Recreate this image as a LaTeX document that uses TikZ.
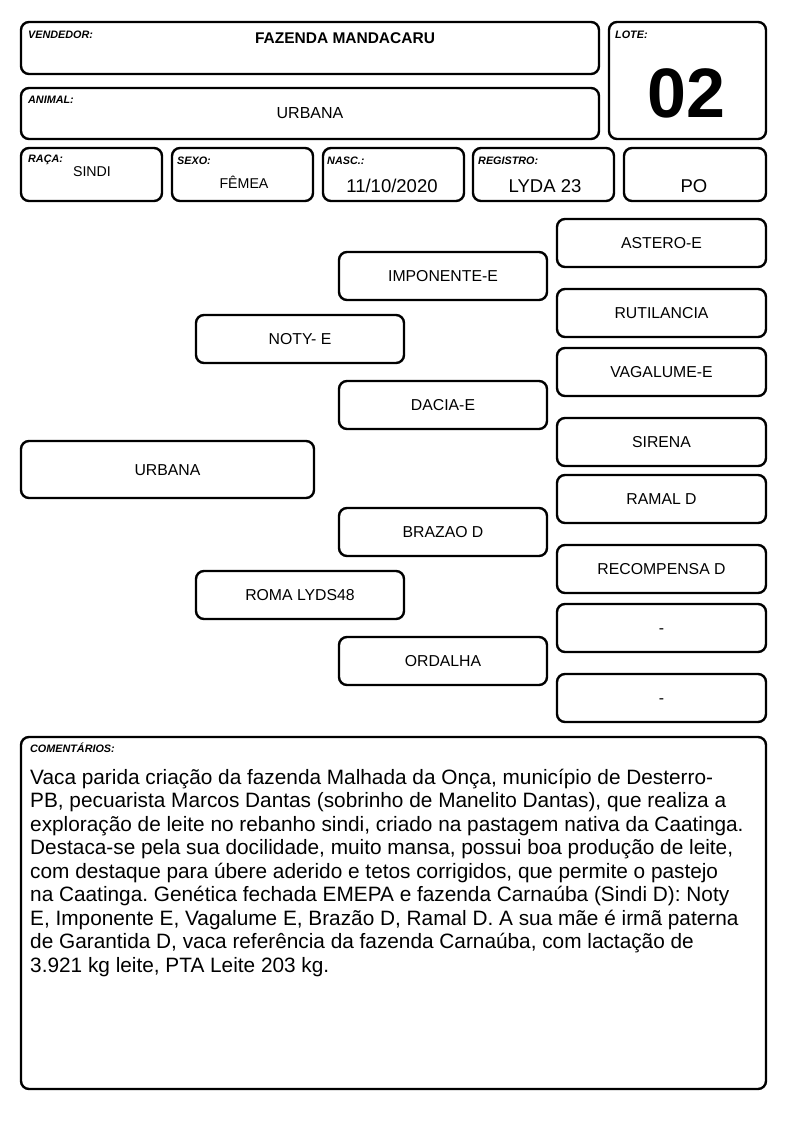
\documentclass[tikz,border=0pt]{standalone}
\usepackage{fontspec}
\setmainfont{Liberation Sans}
\frenchspacing
\begin{document}
\begin{tikzpicture}[x=1pt,y=-1pt,
 box/.style={draw, line width=2.4pt, rounded corners=8pt, inner sep=0pt},
 hbox/.style={box, minimum width=141pt, minimum height=53pt},
 lab/.style={font=\fontsize{10.8}{12}\selectfont\bfseries\itshape, inner sep=0pt, anchor=base west},
 ped/.style={box, minimum width=208pt, minimum height=48pt, text height=11.3pt, text depth=0pt, font=\fontsize{15.8}{18}\selectfont},
 rped/.style={ped, minimum width=209pt},
 val/.style={inner sep=0pt, anchor=base}]
\useasboundingbox (0,0) rectangle (794,1123);
% header boxes
\node[box, minimum width=578pt, minimum height=52pt] (vend) at (310,48) {};
\node[box, minimum width=157pt, minimum height=117pt] (lote) at (687.5,80.5) {};
\node[box, minimum width=578pt, minimum height=51pt] (anim) at (310,113.5) {};
\node[hbox] (raca) at (91.5,174.5) {};
\node[hbox] (sexo) at (242.5,174.5) {};
\node[hbox] (nasc) at (393.5,174.5) {};
\node[hbox] (regi) at (543.5,174.5) {};
\node[hbox, minimum width=142pt] (po) at (695,174.5) {};
% labels
\node[lab] (lvend) at (28,39) {VENDEDOR:};
\node[lab] (lanim) at (28,104) {ANIMAL:};
\node[lab] (lraca) at (28,163) {RAÇA:};
\node[lab] (lsexo) at (177,165) {SEXO:};
\node[lab] (lnasc) at (327,165) {NASC.:};
\node[lab] (lregi) at (478,165) {REGISTRO:};
\node[lab] (llote) at (615,39) {LOTE:};
% values
\node[val, font=\fontsize{15.5}{18}\selectfont\bfseries] (tvend) at (345,43.5) {FAZENDA MANDACARU};
\node[val, font=\fontsize{16}{18}\selectfont] (tanim) at (310,118.7) {URBANA};
\node[val, font=\fontsize{14.2}{16}\selectfont] (traca) at (92,177) {SINDI};
\node[val, font=\fontsize{14.2}{16}\selectfont] (tsexo) at (244,189) {FÊMEA};
\node[val, font=\fontsize{18.5}{20}\selectfont] (tnasc) at (392,192.6) {11/10/2020};
\node[val, font=\fontsize{18.5}{20}\selectfont] (tregi) at (545,192.6) {LYDA 23};
\node[val, font=\fontsize{18.5}{20}\selectfont] (tpo) at (694,192.6) {PO};
\node[val, font=\fontsize{70}{72}\selectfont\bfseries] (tlote) at (686,118) {02};
% pedigree
\node[ped, minimum width=293pt, minimum height=57pt] (urb) at (167.5,469.5) {URBANA};
\node[ped] (noty) at (300,339) {NOTY- E};
\node[ped] (roma) at (300,595) {ROMA LYDS48};
\node[ped] (impo) at (443,276) {IMPONENTE-E};
\node[ped] (dacia) at (443,405) {DACIA-E};
\node[ped] (braz) at (443,532) {BRAZAO D};
\node[ped] (orda) at (443,661) {ORDALHA};
\node[rped] (aste) at (661.5,243) {ASTERO-E};
\node[rped] (ruti) at (661.5,313) {RUTILANCIA};
\node[rped] (vaga) at (661.5,372) {VAGALUME-E};
\node[rped] (sire) at (661.5,442) {SIRENA};
\node[rped] (rama) at (661.5,499) {RAMAL D};
\node[rped] (reco) at (661.5,569) {RECOMPENSA D};
\node[rped] (dash1) at (661.5,628) {-};
\node[rped] (dash2) at (661.5,698) {-};
% comments
\node[box, minimum width=745pt, minimum height=352pt] (com) at (393.5,913) {};
\node[lab] (lcom) at (30,752) {COMENTÁRIOS:};
\node[inner sep=0pt, anchor=base west, align=left, font=\fontsize{20.8}{23.5}\selectfont] (tcom) at (30,972) {Vaca parida criação da fazenda Malhada da Onça, município de Desterro-\\
PB, pecuarista Marcos Dantas (sobrinho de Manelito Dantas), que realiza a\\
exploração de leite no rebanho sindi, criado na pastagem nativa da Caatinga.\\
Destaca-se pela sua docilidade, muito mansa, possui boa produção de leite,\\
com destaque para úbere aderido e tetos corrigidos, que permite o pastejo\\
na Caatinga. Genética fechada EMEPA e fazenda Carnaúba (Sindi D): Noty\\
E, Imponente E, Vagalume E, Brazão D, Ramal D. A sua mãe é irmã paterna\\
de Garantida D, vaca referência da fazenda Carnaúba, com lactação de\\
3.921 kg leite, PTA Leite 203 kg.};
\end{tikzpicture}
\end{document}
